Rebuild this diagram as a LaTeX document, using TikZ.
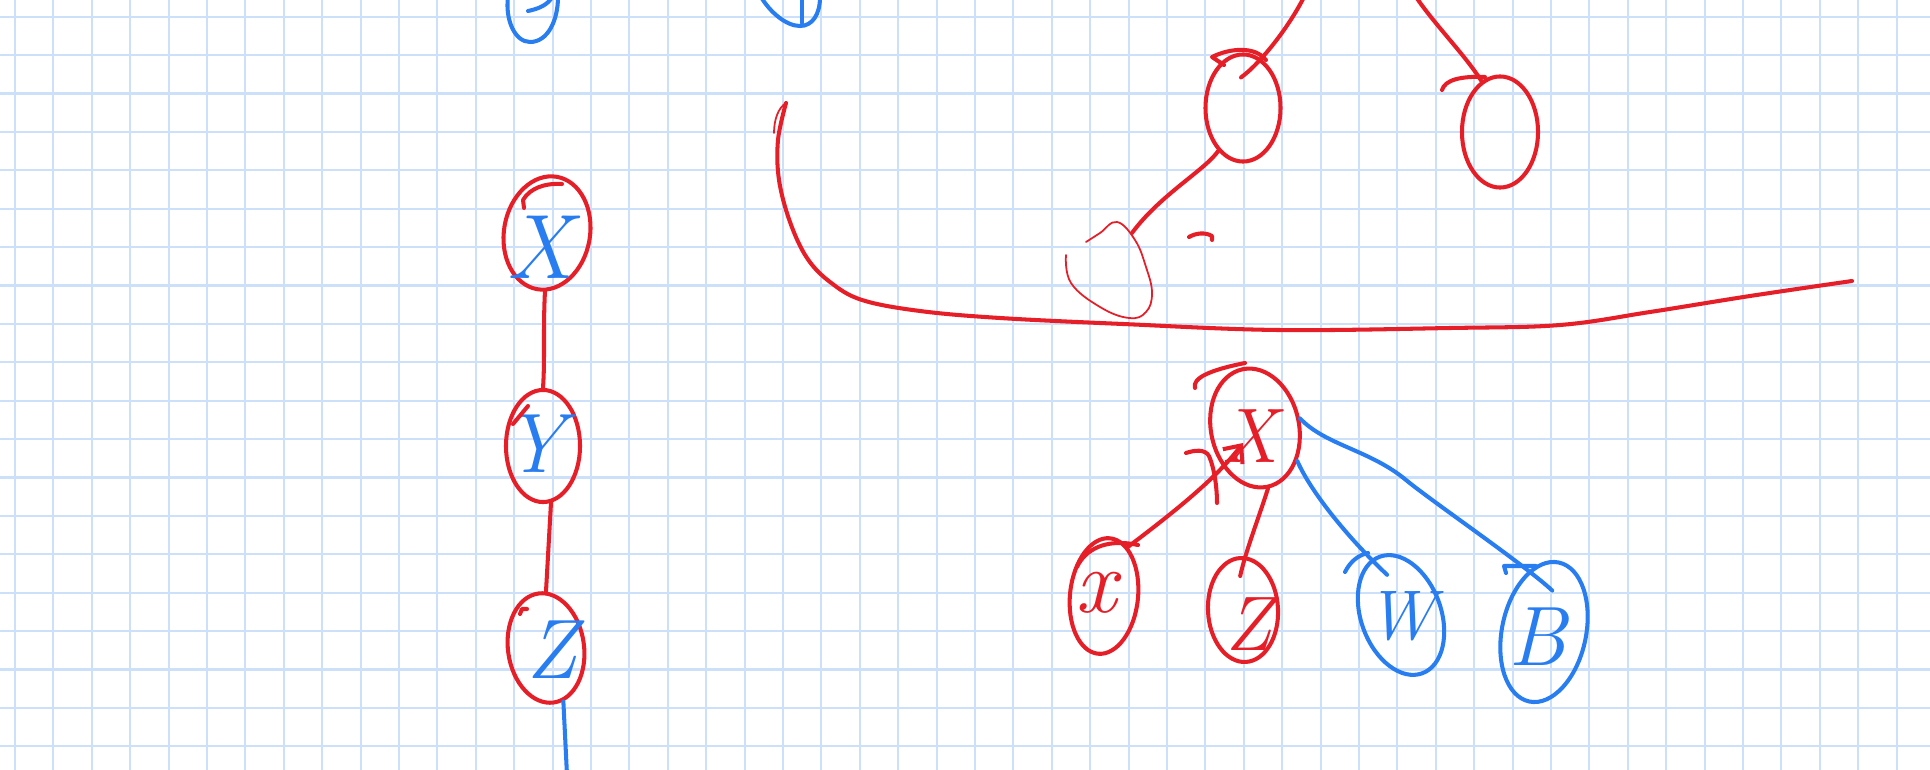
\documentclass[tikz,border=0pt]{standalone}
\usepackage{tikz}
\usetikzlibrary{arrows.meta, shapes.geometric}
\definecolor{gridblue}{RGB}{204,224,250}
\definecolor{penred}{RGB}{230,30,40}
\definecolor{penblue}{RGB}{40,125,240}

\begin{document}
\begin{tikzpicture}[x=0.01cm, y=-0.01cm, line cap=round, line join=round,
  gridline/.style={draw=gridblue, line width=0.6pt},
  redpen/.style={draw=penred, line width=1.15pt},
  bluepen/.style={draw=penblue, line width=1.15pt},
  thinred/.style={draw=penred, line width=0.5pt},
  blob/.style={ellipse, inner sep=0pt, line width=1.15pt},
  letter/.style={inner sep=0pt, font=\fontsize{#1}{#1}\selectfont\itshape},
  letter/.default=24]
  \useasboundingbox (0,0) rectangle (1930,770);
  \fill[white] (0,0) rectangle (1930,770);
  % grid paper
  \foreach \gx in {0,...,49}
    \draw[gridline] ({15+38.4*\gx},0) -- ({15+38.4*\gx},770);
  \foreach \gy in {0,...,19}
    \draw[gridline] (0,{16.7+38.4*\gy}) -- (1930,{16.7+38.4*\gy});

  % cut-off shapes at the top
  \draw[bluepen] (508,-3) .. controls (505,20) and (515,42) .. (530,42) .. controls (548,42) and (558,20) .. (558,-3);
  \draw[bluepen] (528,11) .. controls (538,9) and (548,5) .. (552,-3);
  \draw[bluepen] (761,-3) .. controls (770,12) and (786,26) .. (800,26) .. controls (812,26) and (820,15) .. (820,-3);
  \draw[bluepen] (802,-3) -- (802,23);

  % chain on the left
  \node[blob, draw=penred, minimum width=0.86cm, minimum height=1.14cm, rotate=-10] (chainx) at (547,233) {};
  \node[letter=26, text=penblue] (chainxl) at (540,247) {X};
  \node[blob, draw=penred, minimum width=0.74cm, minimum height=1.12cm] (chainy) at (543,446) {};
  \node[letter=24, text=penblue] (chainyl) at (534,444) {Y};
  \node[blob, draw=penred, minimum width=0.76cm, minimum height=1.10cm, rotate=8] (chainz) at (546,648) {};
  \node[letter=24, text=penblue] (chainzl) at (552,650) {Z};
  \coordinate (chainend) at (567,775);
  \draw[redpen] (chainx.-82) .. controls (543,330) and (545,360) .. (chainy.north);
  \draw[redpen] (chainy.-82) -- (chainz.82);
  \draw[bluepen] (chainz.-80) -- (chainend);
  \draw[redpen] (524,208) -- (523,200) .. controls (530,188) and (545,183) .. (562,184);
  \draw[redpen] (513,424) -- (528,406);
  \draw[redpen] (520,614) -- (522,609) -- (527,609);

  % big bracket
  \draw[redpen] plot[smooth, tension=0.6] coordinates {(786,103) (778,140) (779,180) (790,222) (807,258) (830,282) (862,300) (920,311) (1000,318) (1123,324) (1278,330) (1450,328) (1560,325) (1650,312) (1750,296) (1852,281)};
  \draw[thinred] (786,103) .. controls (778,108) and (774,120) .. (774,133);

  % upper right
  \coordinate (topa) at (1304,-3);
  \coordinate (topb) at (1416,-3);
  \coordinate (looptip) at (1132,233);
  \node[blob, draw=penred, minimum width=0.75cm, minimum height=1.07cm] (upa) at (1243,108) {};
  \node[blob, draw=penred, minimum width=0.76cm, minimum height=1.11cm] (upb) at (1500,132) {};
  \draw[redpen] (topa) .. controls (1290,25) and (1262,62) .. ([shift={(-2,25)}]upa.north);
  \draw[redpen] (topb) .. controls (1435,25) and (1465,55) .. (upb.110);
  \draw[redpen] (1224,65) -- (1212,57) .. controls (1230,48) and (1255,46) .. (1266,60);
  \draw[redpen] (1442,90) .. controls (1445,80) and (1460,76) .. (1485,77);
  \draw[redpen] (upa.240) .. controls (1205,170) and (1160,195) .. (looptip);
  \draw[thinred] plot[smooth, tension=0.7] coordinates {(1066,255) (1071,283) (1100,307) (1129,318) (1146,312) (1152,293) (1146,267) (1135,240) (1117,222) (1100,233) (1086,242)};
  \draw[redpen] (1189,237) .. controls (1196,233) and (1205,232) .. (1212,236) -- (1212,240);

  % tree at the bottom
  \node[blob, draw=penred, minimum width=0.88cm, minimum height=1.20cm, rotate=12] (root) at (1255,428) {};
  \node[letter=22, text=penred] (rootl) at (1250,436) {X};
  \node[blob, draw=penred, minimum width=0.68cm, minimum height=1.16cm, rotate=-6] (leafx) at (1104,596) {};
  \node[letter=26, text=penred] (leafxl) at (1096,593) {x};
  \node[blob, draw=penred, minimum width=0.70cm, minimum height=1.04cm, rotate=3] (leafz) at (1243,610) {};
  \node[letter=22, text=penred] (leafzl) at (1249,624) {Z};
  \node[blob, draw=penblue, minimum width=0.80cm, minimum height=1.24cm, rotate=20] (leafw) at (1401,615) {};
  \node[letter=20, text=penblue] (leafwl) at (1401,616) {W};
  \node[blob, draw=penblue, minimum width=0.84cm, minimum height=1.42cm, rotate=-12] (leafb) at (1544,632) {};
  \node[letter=24, text=penblue] (leafbl) at (1538,637) {B};

  \draw[redpen, {Straight Barb[length=4pt, width=7pt]}-] ([shift={(-12,15)}]root.center) .. controls (1215,480) and (1170,515) .. (leafx.70);
  \draw[redpen] (root.south) .. controls (1258,520) and (1246,550) .. ([shift={(0,20)}]leafz.north);
  \draw[bluepen] (root.-50) .. controls (1310,490) and (1345,535) .. ([shift={(8,20)}]leafw.north);
  \draw[bluepen] (root.east) .. controls (1325,445) and (1370,450) .. (1406,480) .. controls (1430,500) and (1525,565) .. ([shift={(-7,30)}]leafb.north);
  \draw[redpen] (1186,453) .. controls (1195,450) and (1205,449) .. (1209,456) .. controls (1215,470) and (1217,490) .. (1217,503);
  \draw[redpen] (1195,388) .. controls (1192,378) and (1210,370) .. (1245,363);
  \draw[redpen] (1077,567) .. controls (1085,550) and (1105,538) .. (1138,545);
  \draw[bluepen] (1345,572) .. controls (1350,562) and (1358,555) .. (1368,553);
  \draw[bluepen] (1506,573) -- (1504,566) -- (1536,566);
\end{tikzpicture}
\end{document}
